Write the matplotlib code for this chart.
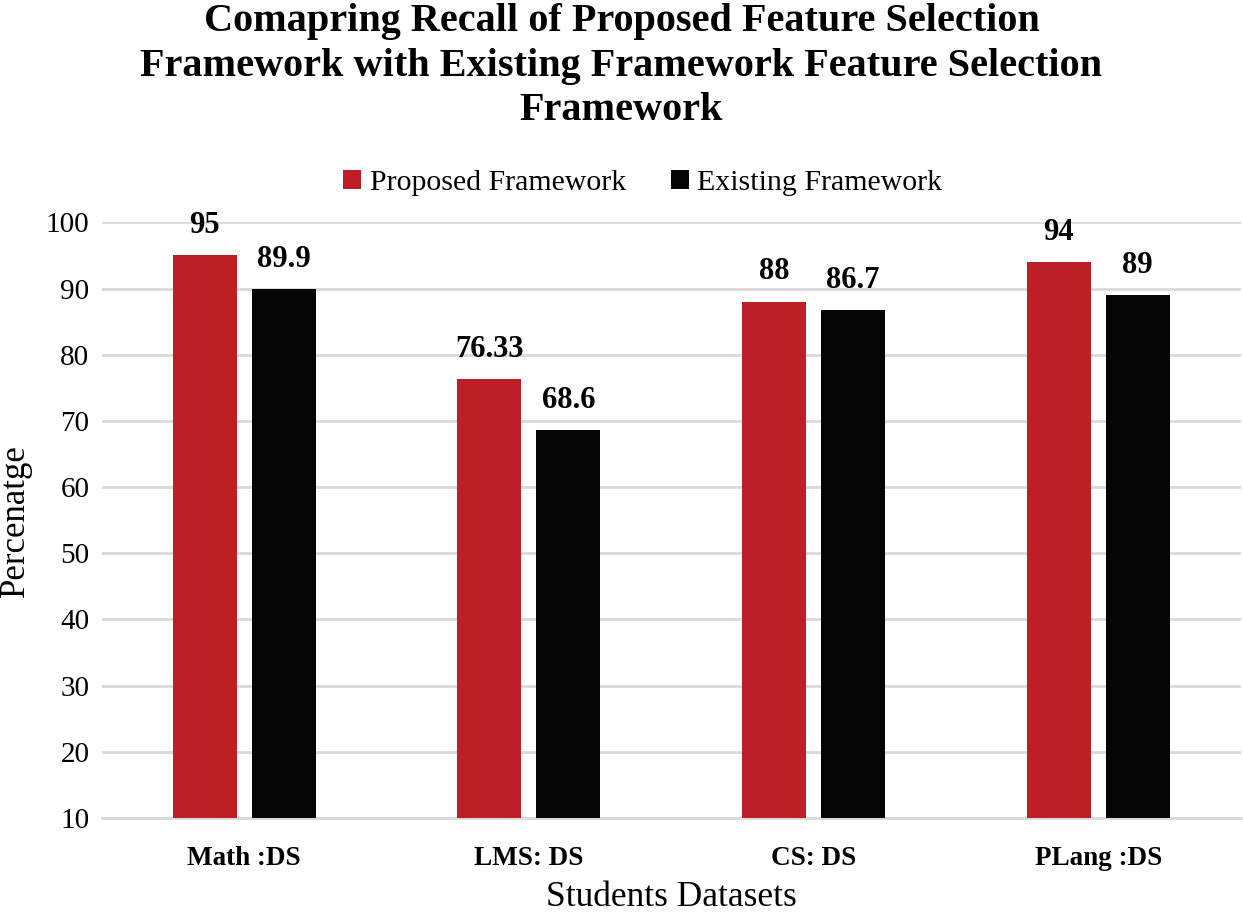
import matplotlib
matplotlib.use("Agg")
import matplotlib.pyplot as plt
import numpy as np

# values
datasets = ["Math :DS", "LMS: DS", "CS: DS", "PLang :DS"]
proposed = [95, 76.33, 88, 94]
existing = [89.9, 68.6, 86.7, 89]
proposed_labels = ["95", "76.33", "88", "94"]
existing_labels = ["89.9", "68.6", "86.7", "89"]
yticks = [10, 20, 30, 40, 50, 60, 70, 80, 90, 100]

plt.rcParams['font.family'] = ['Liberation Serif', 'DejaVu Serif']

RED = "#BE1E26"
BLACK = "#050505"

fig = plt.figure(figsize=(12.43, 9.15), dpi=100)
ax = fig.add_axes([0.082, 0.106, 0.916, 0.651])

x = np.arange(len(datasets))
w = 0.225
off = 0.139
b1 = ax.bar(x - off, proposed, w, bottom=0, color=RED, label="Proposed Framework", zorder=3)
b2 = ax.bar(x + off, existing, w, bottom=0, color=BLACK, label="Existing Framework", zorder=3)

for bars, labs in ((b1, proposed_labels), (b2, existing_labels)):
    for rect, lab in zip(bars, labs):
        ax.annotate(lab, (rect.get_x() + rect.get_width() / 2, rect.get_height()),
                    xytext=(0, 11), textcoords="offset points", ha="center", va="bottom",
                    fontsize=22, fontweight="bold", annotation_clip=False)

ax.set_ylim(10, 100)
ax.set_xlim(-0.5, len(datasets) - 0.5)
ax.set_yticks(yticks)
ax.tick_params(axis="y", labelsize=21, length=0, pad=9)
ax.tick_params(axis="x", length=0, pad=20)
ax.set_xticks(x)
ax.set_xticklabels(datasets, fontsize=19.5, fontweight="bold")
ax.grid(axis="y", color="#D9D9D9", linewidth=2, zorder=0)
for s in ["top", "right", "left"]:
    ax.spines[s].set_visible(False)
ax.spines["bottom"].set_color("#D9D9D9")
ax.spines["bottom"].set_linewidth(2)

ax.set_ylabel("Percenatge", fontsize=25, labelpad=10)
ax.set_xlabel("Students Datasets", fontsize=25.5, labelpad=7)

fig.suptitle("Comapring Recall of Proposed Feature Selection\n"
             "Framework with Existing Framework Feature Selection\n"
             "Framework", fontsize=29, fontweight="bold", y=0.997, va="top",
             linespacing=1.28)

fig.legend(handles=[b1, b2], loc="center", bbox_to_anchor=(0.517, 0.800), ncol=2,
           frameon=False, fontsize=21.5, handlelength=0.6, handleheight=0.6,
           handletextpad=0.3, columnspacing=1.5)

fig.savefig("out.png", dpi=100)
